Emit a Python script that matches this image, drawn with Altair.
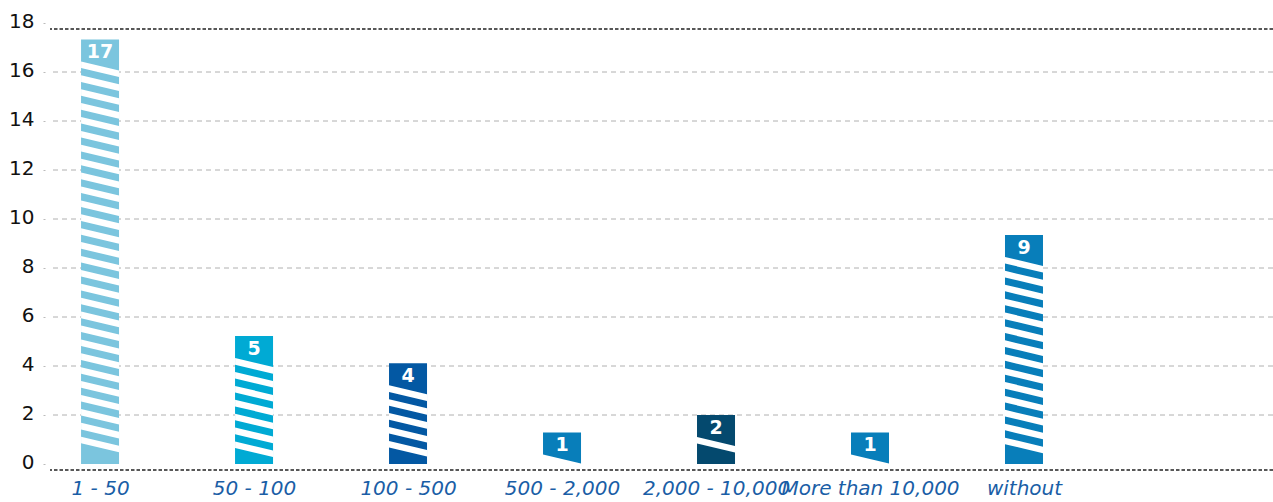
import altair as alt
import pandas as pd

# ---- data ----
categories = ["1 - 50", "50 - 100", "100 - 500", "500 - 2,000",
              "2,000 - 10,000", "More than 10,000", "without"]
counts = [17, 5, 4, 1, 2, 1, 9]                       # value labels
bar_tops = [17.33, 5.22, 4.11, 1.29, 2.0, 1.29, 9.35]  # drawn bar heights
colors = ["#7BC5DE", "#00AAD4", "#0358A3", "#087EBA",
          "#04496E", "#087EBA", "#087EBA"]
y_ticks = [0, 2, 4, 6, 8, 10, 12, 14, 16, 18]
grid_values = [2, 4, 6, 8, 10, 12, 14, 16]
frame_values = [0, 18]

# ---- layout ----
W, H = 1223, 441
X_DOMAIN = [-0.325, 7.617]
Y_DOMAIN = [0, 18]
PX = H / (Y_DOMAIN[1] - Y_DOMAIN[0])       # pixels per y unit
PXX = W / (X_DOMAIN[1] - X_DOMAIN[0])      # pixels per x unit
HALF = 19 / PXX                            # half bar width in x units

BOX = 22 / PX       # label box height
PERIOD = 13.9 / PX  # stripe period
WHITE = 6.6 / PX    # white stripe thickness
SLOPE = 9 / PX      # drop across the bar
MIN_SOLID = 14 / PX # solid part at bottom

bars = pd.DataFrame({
    "cat": categories,
    "i": list(range(len(categories))),
    "x0": [i - HALF for i in range(len(categories))],
    "x1": [i + HALF for i in range(len(categories))],
    "top": bar_tops,
    "count": counts,
})

rows = []
sid = 0
for i, top in enumerate(bar_tops):
    xl, xr = i - HALF, i + HALF
    first = top - BOX
    stripes = []
    k = 0
    while True:
        t = first - k * PERIOD
        b = t - WHITE
        if b < MIN_SOLID:
            break
        stripes.append((t, b))
        k += 1
    if not stripes:
        rows.append({"sid": sid, "x": xl, "y": first, "y2": 0})
        rows.append({"sid": sid, "x": xr, "y": max(first - SLOPE, 0), "y2": 0})
        sid += 1
    else:
        for t, b in stripes:
            rows.append({"sid": sid, "x": xl, "y": t, "y2": b})
            rows.append({"sid": sid, "x": xr, "y": t - SLOPE, "y2": b - SLOPE})
            sid += 1
stripes_df = pd.DataFrame(rows)

xscale = alt.Scale(domain=X_DOMAIN, nice=False, zero=False)
yscale = alt.Scale(domain=Y_DOMAIN, nice=False, zero=False)

label_expr = "[" + ",".join("'" + c + "'" for c in categories) + "][datum.value]"

x_axis = alt.Axis(values=list(range(len(categories))), labelExpr=label_expr,
                  title=None, grid=False, domain=False, ticks=False,
                  labelPadding=14, labelFontSize=20, labelFont="DejaVu Sans",
                  labelFontStyle="italic", labelColor="#1A5EA6",
                  labelOverlap=False, labelFlush=False)
y_axis = alt.Axis(values=y_ticks, title=None, grid=False, domain=False,
                  ticks=True, tickSize=2, tickColor="#BBBBBB", offset=5,
                  labelPadding=9, labelFontSize=20, labelFont="DejaVu Sans",
                  labelColor="#111111", labelOffset=-2, labelFlush=False,
                  labelOverlap=False)

grid = alt.Chart(pd.DataFrame({"v": grid_values})).mark_rule(
    color="#B0B0B0", strokeWidth=1, strokeDash=[5, 4]
).encode(y=alt.Y("v:Q", scale=yscale, axis=y_axis))

frame = alt.Chart(pd.DataFrame({"v": frame_values})).mark_rule(
    color="#222222", strokeWidth=1.6, strokeDash=[3.5, 2], yOffset=6
).encode(y=alt.Y("v:Q", scale=yscale, axis=y_axis))

bar_layer = alt.Chart(bars).mark_rect().encode(
    x=alt.X("x0:Q", scale=xscale, axis=x_axis),
    x2="x1",
    y=alt.Y("top:Q", scale=yscale, axis=y_axis),
    y2=alt.datum(0),
    color=alt.Color("cat:N", scale=alt.Scale(domain=categories, range=colors),
                    legend=None),
)

stripe_layer = alt.Chart(stripes_df).mark_area(color="white", opacity=1).encode(
    x=alt.X("x:Q", scale=xscale, axis=x_axis),
    y=alt.Y("y:Q", scale=yscale, axis=y_axis),
    y2="y2",
    detail="sid:N",
)

text_layer = alt.Chart(bars).mark_text(
    color="white", fontSize=19, fontWeight="bold", font="DejaVu Sans",
    baseline="middle", align="center", dy=13
).encode(
    x=alt.X("i:Q", scale=xscale, axis=x_axis),
    y=alt.Y("top:Q", scale=yscale, axis=y_axis),
    text="count:Q",
)

chart = alt.layer(grid, frame, bar_layer, stripe_layer, text_layer).properties(
    width=W, height=H,
    autosize=alt.AutoSizeParams(type="none"),
    padding={"left": 50, "top": 23, "right": 0, "bottom": 38},
    background="white",
).configure_view(stroke=None)

chart.save("out.html", embed_options={"renderer": "svg", "actions": False})
